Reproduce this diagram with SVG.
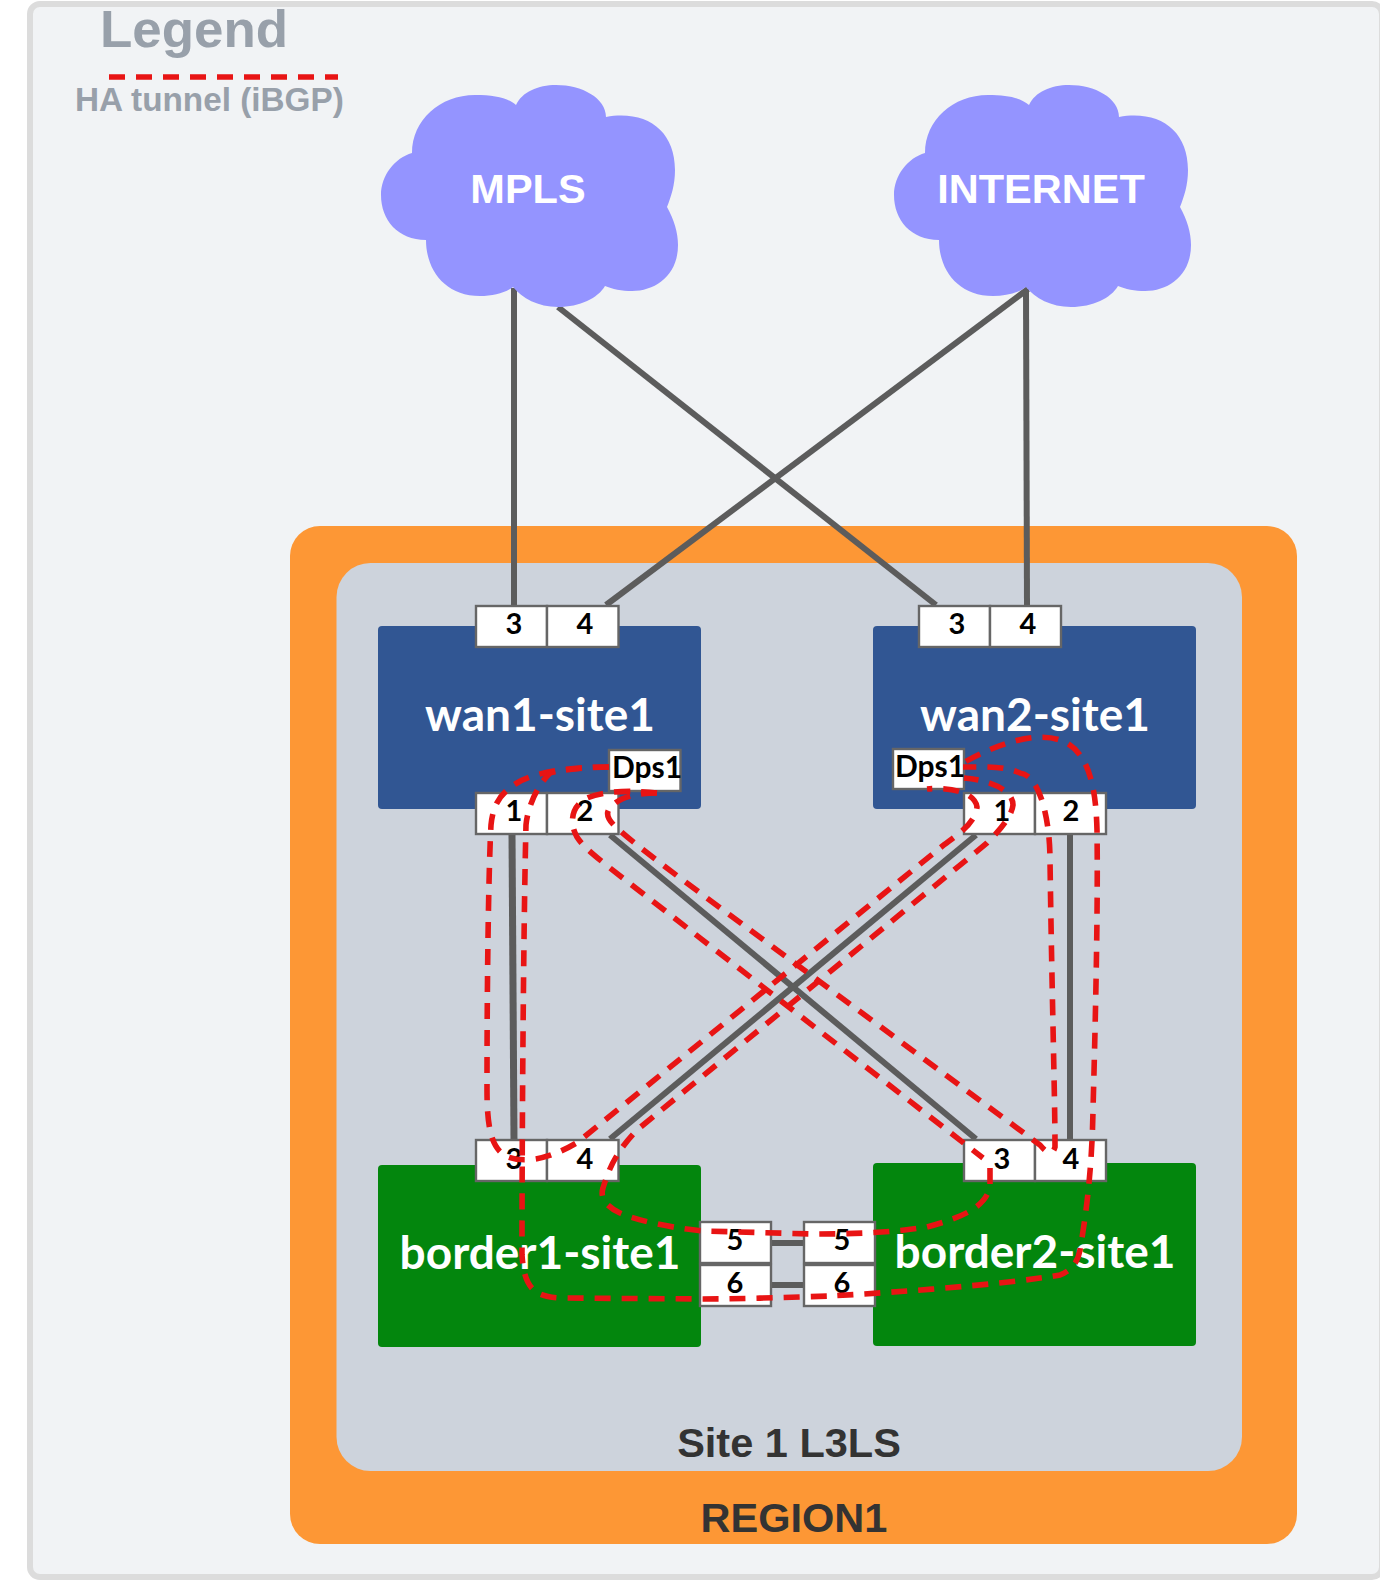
<svg xmlns="http://www.w3.org/2000/svg" width="1380" height="1581" viewBox="0 0 1380 1581">
<style>
.sans{font-family:"Liberation Sans",Arial,sans-serif;font-weight:700}
.lato{font-family:Lato,"Liberation Sans",sans-serif;font-weight:700}
.name{fill:#fff;font-size:46px;text-anchor:middle}
.num{fill:#000;font-size:29px;text-anchor:middle}
.dps{fill:#000;font-size:30px}
.port{fill:#fff;stroke:#666;stroke-width:2.4}
.link{fill:none;stroke:#5c5c5c;stroke-width:6}
.ha{fill:none;stroke:#e81414;stroke-width:5.6;stroke-dasharray:16 11}
.cloud{fill:#9494ff}
.cl{fill:#fff;font-size:41.5px;text-anchor:middle}
</style>
<defs>
<path id="cloudShape" d="M412,153 C412,120 440,95 475,95 C495,95 508,98 516,105 C522,92 538,85 556,85 C582,85 606,98 606,117 C646,110 675,130 675,170 C675,185 671,197 667,207 C674,220 678,232 678,245 C678,275 656,291 632,291 C622,291 612,289 605,286 C598,298 580,307 558,307 C538,307 522,298 513,287 C505,293 493,296 480,296 C445,296 426,270 426,240 C398,240 381,220 381,195 C381,175 395,158 412,153 Z"/>
</defs>
<g id="background">
<rect x="30" y="4" width="1352" height="1573" rx="10" fill="#f1f3f5" stroke="#dcdcdc" stroke-width="6"/>
</g>
<g id="legend">
<text class="sans" x="100" y="47" font-size="52" fill="#98a0aa" textLength="188" lengthAdjust="spacingAndGlyphs">Legend</text>
<line x1="109" y1="77" x2="338" y2="77" class="ha"/>
<text class="sans" x="75" y="111" font-size="33.3" fill="#98a0aa">HA tunnel (iBGP)</text>
</g>
<g id="region1">
<rect x="290" y="526" width="1007" height="1018" rx="30" fill="#fd9735"/>
<text class="sans" x="794" y="1532" font-size="41.5" fill="#333" text-anchor="middle">REGION1</text>
</g>
<g id="site1">
<rect x="336.500" y="563" width="905.500" height="908" rx="34" fill="#cdd3dc"/>
<text class="sans" x="789" y="1457" font-size="41.500" fill="#333" text-anchor="middle">Site 1 L3LS</text>
</g>
<g id="connectors">
<path class="link" d="M514,288V605"/>
<path class="link" d="M558,307L936,605"/>
<path class="link" d="M1028,289L606,605"/>
<path class="link" d="M1026,289L1027,605"/>
<path class="link" d="M512,834L514,1140" style="stroke-width:7"/>
<path class="link" d="M610,835L976,1139"/>
<path class="link" d="M976,835L610,1139"/>
<path class="link" d="M1070,834V1140"/>
<path class="link" d="M771,1243H804"/>
<path class="link" d="M771,1285H804"/>
</g>
<g id="mpls"><use href="#cloudShape" class="cloud"/><text class="sans cl" x="528" y="203">MPLS</text></g>
<g id="internet"><use href="#cloudShape" class="cloud" x="513"/><text class="sans cl" x="1041" y="203">INTERNET</text></g>
<g id="wan1-site1">
<rect x="378" y="626" width="323" height="183" rx="4" fill="#315693"/>
<text class="lato name" x="540" y="731">wan1-site1</text>
<rect class="port" x="476" y="606" width="71" height="41"/><rect class="port" x="547" y="606" width="71.500" height="41"/>
<text class="lato num" x="514" y="634">3</text><text class="lato num" x="585" y="634">4</text>
<rect class="port" x="476" y="793" width="71" height="41"/><rect class="port" x="547" y="793" width="71.500" height="41"/>
<text class="lato num" x="514" y="821">1</text><text class="lato num" x="585" y="821">2</text>
<rect class="port" x="609" y="750" width="71.500" height="41"/>
<text class="lato dps" x="612" y="778">Dps1</text>
</g>
<g id="wan2-site1">
<rect x="873" y="626" width="323" height="183" rx="4" fill="#315693"/>
<text class="lato name" x="1035" y="731">wan2-site1</text>
<rect class="port" x="919" y="606" width="71" height="41"/><rect class="port" x="990" y="606" width="71" height="41"/>
<text class="lato num" x="957" y="634">3</text><text class="lato num" x="1028" y="634">4</text>
<rect class="port" x="964" y="793" width="71" height="41"/><rect class="port" x="1035" y="793" width="71" height="41"/>
<text class="lato num" x="1002" y="821">1</text><text class="lato num" x="1071" y="821">2</text>
<rect class="port" x="893" y="749" width="71" height="40"/>
<text class="lato dps" x="895" y="777">Dps1</text>
</g>
<g id="border1-site1">
<rect x="378" y="1165" width="323" height="182" rx="4" fill="#03860d"/>
<text class="lato name" x="540" y="1269">border1-site1</text>
<rect class="port" x="476" y="1140" width="71" height="41"/><rect class="port" x="547" y="1140" width="71.500" height="41"/>
<text class="lato num" x="514" y="1169">3</text><text class="lato num" x="585" y="1169">4</text>
<rect class="port" x="700" y="1222" width="71" height="41"/><rect class="port" x="700" y="1265" width="71" height="41"/>
<text class="lato num" x="735" y="1250">5</text><text class="lato num" x="735" y="1293">6</text>
</g>
<g id="border2-site1">
<rect x="873" y="1163" width="323" height="183" rx="4" fill="#03860d"/>
<text class="lato name" x="1035" y="1268">border2-site1</text>
<rect class="port" x="964" y="1140" width="71" height="41"/><rect class="port" x="1035" y="1140" width="71" height="41"/>
<text class="lato num" x="1002" y="1169">3</text><text class="lato num" x="1071" y="1169">4</text>
<rect class="port" x="804" y="1222" width="71" height="41"/><rect class="port" x="804" y="1265" width="71" height="41"/>
<text class="lato num" x="842" y="1250">5</text><text class="lato num" x="842" y="1293">6</text>
</g>
<g id="ha-tunnels">
<path class="ha" d="M609,767 C570,767 535,772 517,783 C500,793 493,805 491,825 C489,860 487,960 487,1090 C487,1130 492,1150 508,1157 C522,1162 545,1162 578,1142 L940,848 C955,836 975,825 977,807 C975,792 950,787 927,789"/>
<path class="ha" d="M609,767 C585,767 562,770 550,773 C538,785 528,805 526,825 C524,900 522,1100 522,1255 C524,1285 532,1297 560,1298 L703,1299 C740,1299 800,1297 830,1296 C900,1292 1000,1285 1060,1275 C1072,1270 1078,1262 1080,1250 C1086,1215 1092,1170 1093,1110 C1096,1000 1098,900 1097,830 C1096,790 1090,755 1065,742 C1040,730 1000,742 963,763"/>
<path class="ha" d="M657,793 C640,791 605,789 585,799 C570,808 570,825 577,837 C582,845 590,852 610,868 L983,1158 M990,1168 C990,1175 990,1180 990,1185 C988,1205 965,1217 927,1227 C890,1233 850,1234 813,1234 L703,1231 C680,1229 640,1222 620,1213 C605,1206 600,1197 603,1188 C610,1165 618,1150 637,1130 L987,843 C1002,828 1012,815 1013,805 C1013,790 990,780 964,778"/>
<path class="ha" d="M657,793 C635,793 620,798 613,805 C603,813 608,820 618,829 C630,840 650,855 680,878 L1040,1145 C1046,1152 1052,1157 1055,1147 C1055,1100 1052,1000 1050,860 C1050,820 1040,775 1020,773 C1005,766 985,767 963,767"/>
</g>
</svg>
